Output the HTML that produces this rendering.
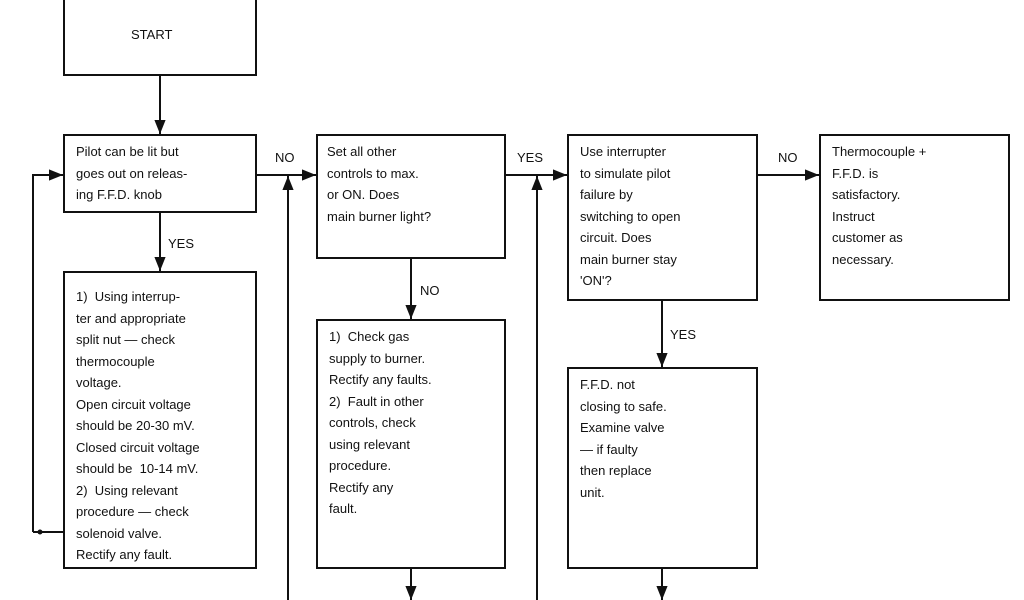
<!DOCTYPE html>
<html><head><style>
body{margin:0;width:1024px;height:600px;background:#fff;overflow:hidden;position:relative;font-family:"Liberation Sans",Arial,sans-serif;color:#111}
.t{position:absolute;font-size:13px;line-height:21.5px;white-space:pre}
.l{position:absolute;font-size:13px}
svg{position:absolute;left:0;top:0}
</style></head><body>
<svg width="1024" height="600" viewBox="0 0 1024 600">
<defs><marker id="a" viewBox="0 0 10 10" refX="10" refY="5" markerWidth="7" markerHeight="7" orient="auto"><path d="M0,1L10,5L0,9z" fill="#111"/></marker></defs>
<g stroke="#111" stroke-width="2" fill="none">
<rect x="64" y="-5" width="192" height="80"/>
<rect x="64" y="135" width="192" height="77"/>
<rect x="64" y="272" width="192" height="296"/>
<rect x="317" y="135" width="188" height="123"/>
<rect x="317" y="320" width="188" height="248"/>
<rect x="568" y="135" width="189" height="165"/>
<rect x="820" y="135" width="189" height="165"/>
<rect x="568" y="368" width="189" height="200"/>
<line x1="160" y1="75" x2="160" y2="134" marker-end="url(#a)"/>
<line x1="160" y1="212" x2="160" y2="271" marker-end="url(#a)"/>
<line x1="64" y1="532" x2="33" y2="532"/>
<polyline points="33,532 33,175 63,175" marker-end="url(#a)"/>
<line x1="256" y1="175" x2="316" y2="175" marker-end="url(#a)"/>
<line x1="288" y1="600" x2="288" y2="176" marker-end="url(#a)"/>
<line x1="411" y1="258" x2="411" y2="319" marker-end="url(#a)"/>
<line x1="411" y1="568" x2="411" y2="600" marker-end="url(#a)"/>
<line x1="505" y1="175" x2="567" y2="175" marker-end="url(#a)"/>
<line x1="537" y1="600" x2="537" y2="176" marker-end="url(#a)"/>
<line x1="757" y1="175" x2="819" y2="175" marker-end="url(#a)"/>
<line x1="662" y1="300" x2="662" y2="367" marker-end="url(#a)"/>
<line x1="662" y1="568" x2="662" y2="600" marker-end="url(#a)"/>
</g>
<circle cx="40" cy="532" r="2.5" fill="#111"/>
</svg>
<div class="l" style="left:131px;top:27px">START</div>
<div class="t" style="left:76px;top:141px">Pilot can be lit but
goes out on releas-
ing F.F.D. knob</div>
<div class="l" style="left:168px;top:236px">YES</div>
<div class="t" style="left:76px;top:286px">1)  Using interrup-
ter and appropriate
split nut — check
thermocouple
voltage.
Open circuit voltage
should be 20-30 mV.
Closed circuit voltage
should be  10-14 mV.
2)  Using relevant
procedure — check
solenoid valve.
Rectify any fault.</div>
<div class="l" style="left:275px;top:150px">NO</div>
<div class="t" style="left:327px;top:141px">Set all other
controls to max.
or ON. Does
main burner light?</div>
<div class="l" style="left:420px;top:283px">NO</div>
<div class="t" style="left:329px;top:326px">1)  Check gas
supply to burner.
Rectify any faults.
2)  Fault in other
controls, check
using relevant
procedure.
Rectify any
fault.</div>
<div class="l" style="left:517px;top:150px">YES</div>
<div class="t" style="left:580px;top:141px">Use interrupter
to simulate pilot
failure by
switching to open
circuit. Does
main burner stay
'ON'?</div>
<div class="l" style="left:778px;top:150px">NO</div>
<div class="t" style="left:832px;top:141px">Thermocouple +
F.F.D. is
satisfactory.
Instruct
customer as
necessary.</div>
<div class="l" style="left:670px;top:327px">YES</div>
<div class="t" style="left:580px;top:374px">F.F.D. not
closing to safe.
Examine valve
— if faulty
then replace
unit.</div>
</body></html>
